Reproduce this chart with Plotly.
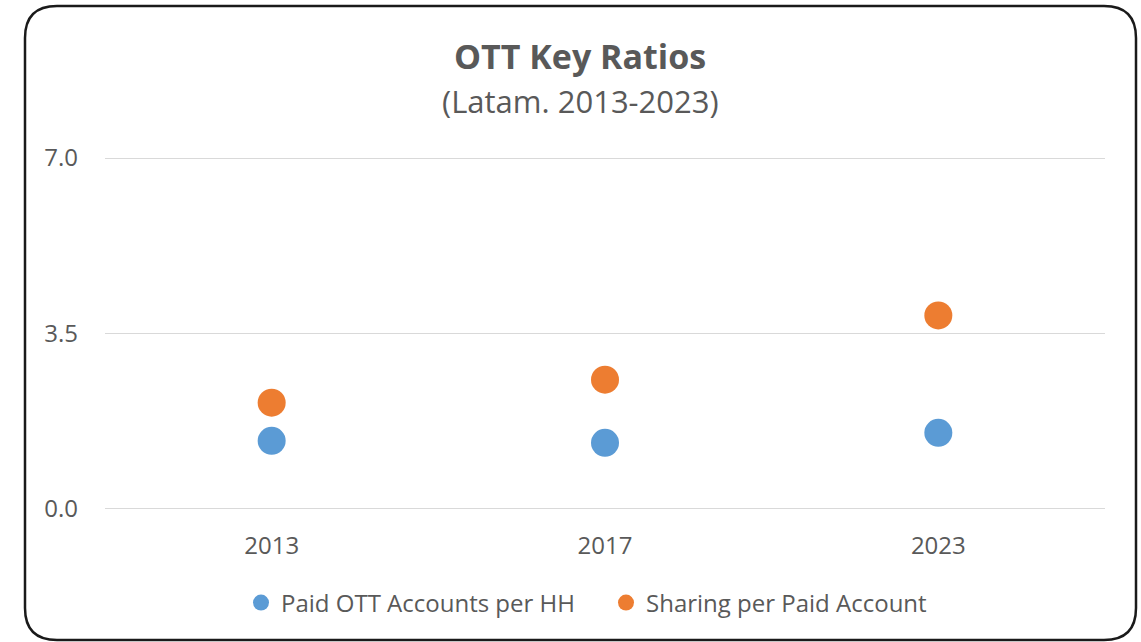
import plotly.graph_objects as go

categories = ["2013", "2017", "2023"]
paid_accounts_per_hh = [1.36, 1.32, 1.52]
sharing_per_paid_account = [2.12, 2.58, 3.86]
y_ticks = [0, 3.5, 7.0]
y_tick_labels = ["0.0", "3.5", "7.0"]

W, H = 1141, 642
# plot area: y=7 at 158px, y=0 at 509px; range padded by 0.06 units (50 px/unit -> 3px)
L, R, T, B = 105, 36, 155, 130
pw, ph = W - L - R, H - T - B

def px(x):
    return (x - L) / pw

def py(y):
    return (H - B - y) / ph

FONT = "Open Sans"
GREY = "#595959"

fig = go.Figure()
fig.add_trace(go.Scatter(x=categories, y=paid_accounts_per_hh, mode="markers",
                         name="Paid OTT Accounts per HH",
                         marker=dict(color="#5B9BD5", size=28, line=dict(width=0))))
fig.add_trace(go.Scatter(x=categories, y=sharing_per_paid_account, mode="markers",
                         name="Sharing per Paid Account",
                         marker=dict(color="#ED7D31", size=28, line=dict(width=0))))

# rounded border
x0, x1, y0, y1 = 25, 1136, 6, 640
r = 32
path = (f"M {px(x0+r)} {py(y0)} L {px(x1-r)} {py(y0)} Q {px(x1)} {py(y0)} {px(x1)} {py(y0+r)} "
        f"L {px(x1)} {py(y1-r)} Q {px(x1)} {py(y1)} {px(x1-r)} {py(y1)} "
        f"L {px(x0+r)} {py(y1)} Q {px(x0)} {py(y1)} {px(x0)} {py(y1-r)} "
        f"L {px(x0)} {py(y0+r)} Q {px(x0)} {py(y0)} {px(x0+r)} {py(y0)} Z")
fig.add_shape(type="path", path=path, xref="paper", yref="paper",
              line=dict(color="#1a1a1a", width=2.5), layer="below")

fig.add_annotation(text="<b>OTT Key Ratios</b>", x=px(580), y=py(56), xref="paper", yref="paper",
                   showarrow=False, font=dict(family=FONT, size=34, color=GREY),
                   xanchor="center", yanchor="middle")
fig.add_annotation(text="(Latam. 2013-2023)", x=px(580), y=py(101), xref="paper", yref="paper",
                   showarrow=False, font=dict(family=FONT, size=31, color=GREY),
                   xanchor="center", yanchor="middle")

fig.update_layout(
    width=W, height=H,
    margin=dict(l=L, r=R, t=T, b=B),
    paper_bgcolor="white", plot_bgcolor="white",
    font=dict(family=FONT, color=GREY),
    showlegend=True,
    legend=dict(orientation="h", x=px(241), xanchor="left", y=py(603), yanchor="middle",
                font=dict(family=FONT, size=24, color=GREY), itemsizing="trace",
                itemwidth=30, tracegroupgap=0, bgcolor="rgba(0,0,0,0)",
                entrywidth=320, entrywidthmode="pixels"),
)
fig.update_xaxes(type="category", range=[-0.5, 2.5], showgrid=False, showline=False,
                 zeroline=False, ticks="", tickfont=dict(family=FONT, size=24, color=GREY),
                 ticklabelstandoff=17)
fig.update_yaxes(range=[-0.06, 7.06], tickvals=y_ticks, ticktext=y_tick_labels,
                 showgrid=True, gridcolor="#D9D9D9", gridwidth=1.3, zeroline=False,
                 showline=False, ticks="", tickfont=dict(family=FONT, size=24, color=GREY),
                 ticklabelstandoff=26)

fig.write_html("out.html", config={"displayModeBar": False},
               post_script="document.body.style.margin='0';document.body.style.padding='0';")
